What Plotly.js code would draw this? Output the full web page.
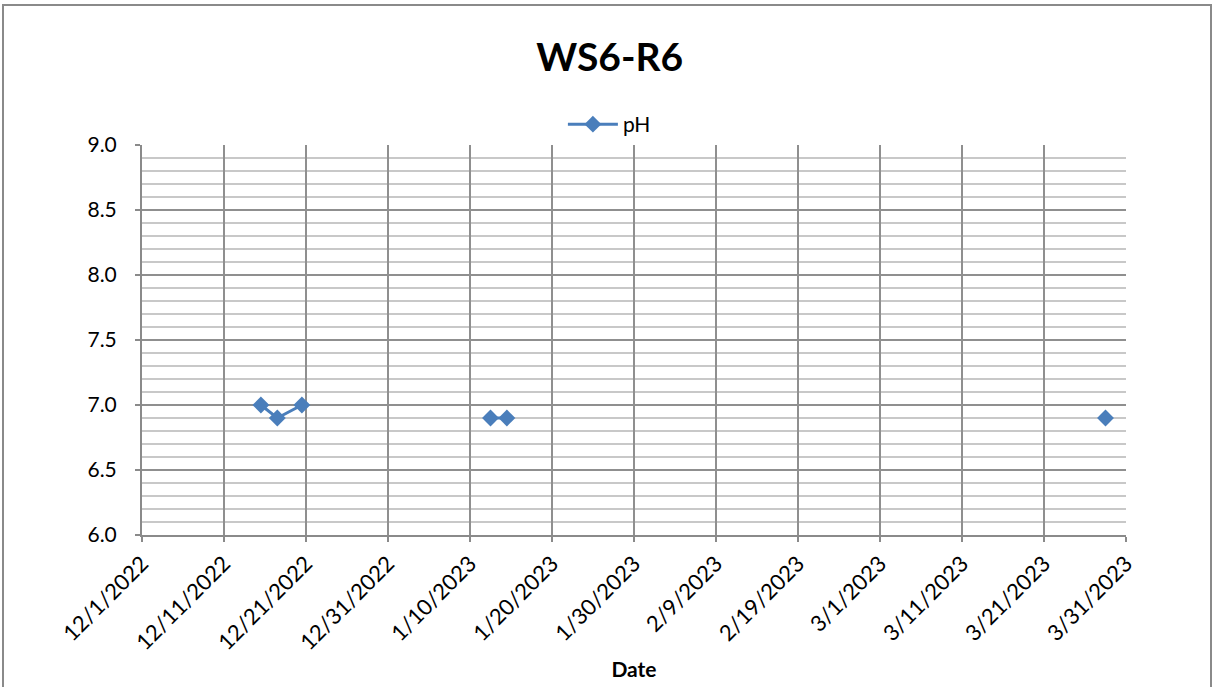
<!DOCTYPE html>
<html>
<head>
<meta charset="utf-8">
<script src="https://cdn.plot.ly/plotly-3.0.1.min.js"></script>
<style>
  html, body { margin: 0; padding: 0; background: #fff; }
  #wrap { position: relative; width: 1217px; height: 687px; overflow: hidden; }
  #chart { position: absolute; left: 0; top: 0; width: 1217px; height: 687px; }
  #frame { position: absolute; left: 2px; top: 4px; width: 1210px; height: 700px;
           border: 2px solid #8a8a8a; box-sizing: border-box; pointer-events: none; }
</style>
</head>
<body>
<div id="wrap">
  <div id="chart"></div>
  <div id="frame"></div>
</div>
<script>
// Sample dates (null pH = no sample, breaks the line like Excel gaps)
const sampleDates = ["2022-12-15", "2022-12-17", "2022-12-20", "2023-01-01",
                     "2023-01-12", "2023-01-14", "2023-02-15", "2023-03-28"];
const phValues    = [7.0, 6.9, 7.0, null, 6.9, 6.9, null, 6.9];

const tickDates  = ["2022-12-01", "2022-12-11", "2022-12-21", "2022-12-31",
                    "2023-01-10", "2023-01-20", "2023-01-30", "2023-02-09",
                    "2023-02-19", "2023-03-01", "2023-03-11", "2023-03-21", "2023-03-31"];
const tickLabels = ["12/1/2022", "12/11/2022", "12/21/2022", "12/31/2022",
                    "1/10/2023", "1/20/2023", "1/30/2023", "2/9/2023",
                    "2/19/2023", "3/1/2023", "3/11/2023", "3/21/2023", "3/31/2023"];
const yTicks = [6.0, 6.5, 7.0, 7.5, 8.0, 8.5, 9.0];

// Excel date axis places each day in the middle of its day slot
const xPlot = sampleDates.map(d => d + " 12:00");

const FONT = "Lato, 'Open Sans', 'Liberation Sans', sans-serif";

const trace = {
  x: xPlot,
  y: phValues,
  type: "scatter",
  mode: "lines+markers",
  name: "pH",
  connectgaps: false,
  line: { color: "#4a7ebb", width: 3 },
  marker: { symbol: "diamond", size: 13, color: "#4a7ebb", line: { width: 0 } }
};

const layout = {
  width: 1217,
  height: 687,
  paper_bgcolor: "#ffffff",
  plot_bgcolor: "#ffffff",
  margin: { l: 142, r: 91, t: 145, b: 152 },
  font: { family: FONT, size: 20, color: "#000" },
  title: {
    text: "<b>WS6-R6</b>",
    font: { family: FONT, size: 39, color: "#000" },
    x: 0.501, xanchor: "center",
    y: 0.917, yanchor: "middle",
    xref: "container", yref: "container"
  },
  showlegend: true,
  legend: {
    orientation: "h",
    x: 0.475, xanchor: "center",
    y: 1.0, yanchor: "bottom",
    font: { family: FONT, size: 21, color: "#000" },
    itemwidth: 50,
    bgcolor: "rgba(0,0,0,0)"
  },
  xaxis: {
    type: "date",
    range: ["2022-12-01", "2023-03-31"],
    tickmode: "array",
    tickvals: tickDates,
    ticktext: tickLabels,
    tickangle: -45,
    tickfont: { family: FONT, size: 22, color: "#000" },
    ticks: "outside",
    ticklen: 5,
    tickwidth: 2,
    tickcolor: "#8a8a8a",
    showgrid: true,
    gridcolor: "#8f8f8f",
    gridwidth: 2,
    showline: true,
    linecolor: "#8a8a8a",
    linewidth: 2,
    zeroline: false,
    title: { text: "<b>Date</b>", font: { family: FONT, size: 21, color: "#000" }, standoff: 8 }
  },
  yaxis: {
    range: [6.0, 9.0],
    tickmode: "array",
    tickvals: yTicks,
    ticktext: yTicks.map(v => v.toFixed(1)),
    tickfont: { family: FONT, size: 21, color: "#000" },
    ticks: "outside",
    ticklen: 5,
    tickwidth: 2,
    tickcolor: "#8a8a8a",
    ticklabelstandoff: 14,
    showgrid: true,
    gridcolor: "#8f8f8f",
    gridwidth: 2,
    minor: { dtick: 0.1, showgrid: true, gridcolor: "#c8c8c8", gridwidth: 1.5, ticks: "" },
    showline: true,
    linecolor: "#8a8a8a",
    linewidth: 2,
    zeroline: false
  }
};

Plotly.newPlot("chart", [trace], layout, { displayModeBar: false, staticPlot: true });
</script>
</body>
</html>
